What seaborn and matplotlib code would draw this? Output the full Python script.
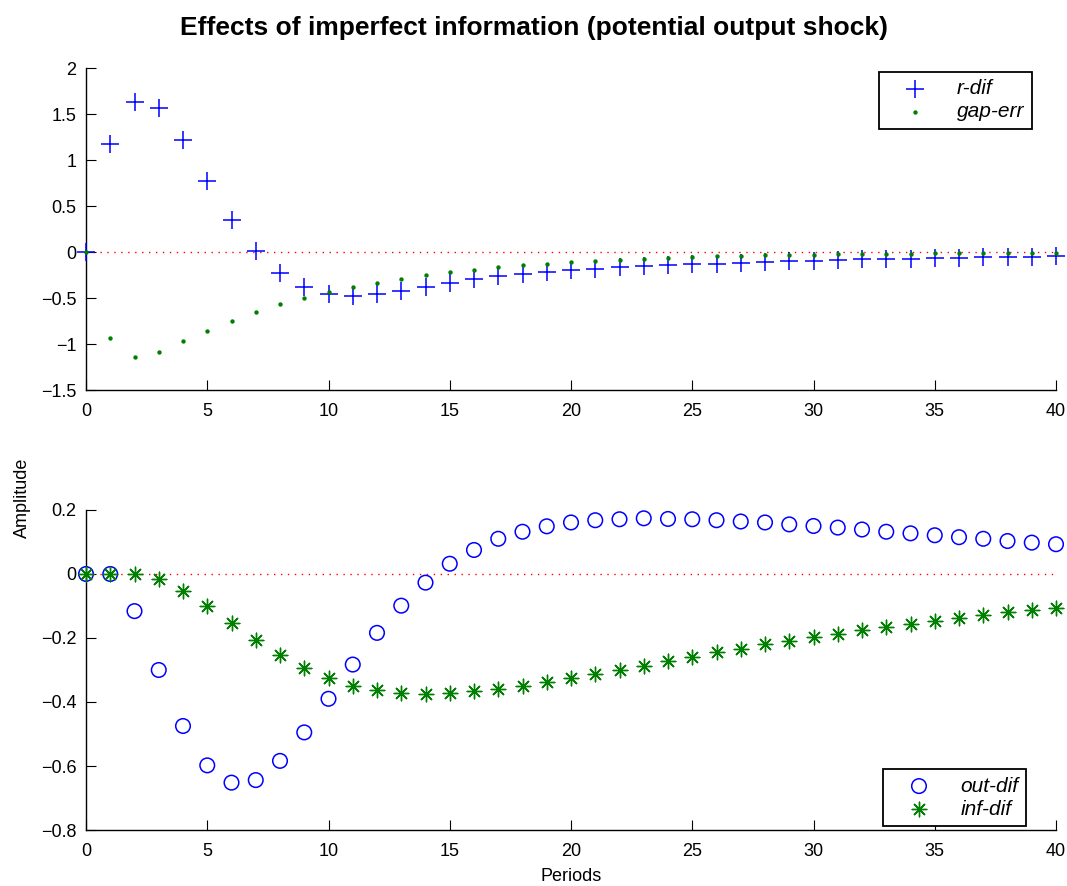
import matplotlib
matplotlib.use("Agg")
import matplotlib.pyplot as plt
import numpy as np
import pandas as pd
import seaborn as sns

periods = list(range(41))

r_dif = [0.0, 1.17, 1.636, 1.563, 1.218, 0.771, 0.353, 0.015, -0.229, -0.378,
         -0.458, -0.483, -0.458, -0.422, -0.382, -0.334, -0.294, -0.262, -0.240, -0.214,
         -0.193, -0.185, -0.164, -0.156, -0.145, -0.134, -0.127, -0.120, -0.109, -0.102,
         -0.098, -0.087, -0.080, -0.076, -0.073, -0.069, -0.065, -0.058, -0.054, -0.051,
         -0.044]
gap_err = [0.0, -0.938, -1.145, -1.083, -0.971, -0.854, -0.749, -0.651, -0.570, -0.502,
           -0.433, -0.382, -0.334, -0.291, -0.251, -0.218, -0.193, -0.167, -0.145, -0.127,
           -0.113, -0.098, -0.084, -0.076, -0.065, -0.058, -0.047, -0.044, -0.036, -0.033,
           -0.029, -0.025, -0.022, -0.018, -0.018, -0.015, -0.015, -0.011, -0.011, -0.011,
           -0.011]
out_dif = [0.0, 0.0, -0.116, -0.300, -0.475, -0.598, -0.652, -0.644, -0.584, -0.495,
           -0.390, -0.283, -0.184, -0.099, -0.027, 0.032, 0.075, 0.110, 0.132, 0.149,
           0.161, 0.168, 0.171, 0.174, 0.172, 0.171, 0.168, 0.164, 0.161, 0.155,
           0.150, 0.145, 0.139, 0.132, 0.127, 0.121, 0.115, 0.110, 0.103, 0.098,
           0.093]
inf_dif = [0.0, 0.0, 0.0, -0.017, -0.053, -0.101, -0.154, -0.206, -0.254, -0.295,
           -0.326, -0.350, -0.364, -0.373, -0.375, -0.373, -0.366, -0.360, -0.349, -0.337,
           -0.325, -0.313, -0.299, -0.286, -0.272, -0.258, -0.245, -0.233, -0.219, -0.208,
           -0.197, -0.186, -0.176, -0.165, -0.155, -0.146, -0.137, -0.128, -0.120, -0.113,
           -0.105]

BLUE = "#0000FF"
GREEN = "#008000"
FONT = ["Liberation Sans", "DejaVu Sans"]

sns.set_style("ticks")
plt.rcParams.update({
    "font.family": FONT,
    "font.size": 13,
    "text.color": "black",
    "xtick.direction": "in",
    "ytick.direction": "in",
    "xtick.major.size": 7,
    "ytick.major.size": 7,
    "axes.linewidth": 1.0,
    "axes.edgecolor": "black",
    "xtick.color": "black",
    "ytick.color": "black",
})


def tick_fmt(v, pos):
    v = round(v, 6)
    if abs(v) < 1e-9:
        return "0"
    return ("\u2212" if v < 0 else "") + f"{abs(v):g}"


fig = plt.figure(figsize=(10.67, 8.86), dpi=100)
ax1 = fig.add_axes([0.0806, 0.5598, 0.9091, 0.3634])
ax2 = fig.add_axes([0.0806, 0.0632, 0.9091, 0.3612])

top = pd.DataFrame({"period": periods, "r-dif": r_dif, "gap-err": gap_err})
bot = pd.DataFrame({"period": periods, "out-dif": out_dif, "inf-dif": inf_dif})

for ax in (ax1, ax2):
    ax.axhline(0, color="red", linestyle=(0, (1, 4)), linewidth=1.0, zorder=1)

sns.scatterplot(data=top, x="period", y="r-dif", marker="+", s=180, color=BLUE,
                linewidth=1.1, ax=ax1, label="r-dif", clip_on=False, zorder=3)
sns.scatterplot(data=top, x="period", y="gap-err", marker="o", s=10, color=GREEN,
                edgecolor=GREEN, linewidth=0, ax=ax1, label="gap-err", clip_on=False, zorder=3)

sns.scatterplot(data=bot, x="period", y="out-dif", marker="o", s=110, facecolors="none",
                edgecolor=BLUE, linewidth=1.1, ax=ax2, label="out-dif", clip_on=False, zorder=3)
sns.scatterplot(data=bot, x="period", y="inf-dif", marker=(8, 2, 0), s=110, color=GREEN,
                linewidth=1.0, ax=ax2, label="inf-dif", clip_on=False, zorder=3)

ax1.set_xlim(0, 40)
ax1.set_ylim(-1.5, 2)
ax1.set_yticks(np.arange(-1.5, 2.01, 0.5))
ax2.set_xlim(0, 40)
ax2.set_ylim(-0.8, 0.2)
ax2.set_yticks(np.arange(-0.8, 0.21, 0.2))

for ax in (ax1, ax2):
    ax.set_xticks(range(0, 41, 5))
    ax.set_xlabel("")
    ax.set_ylabel("")
    ax.tick_params(axis="x", labelsize=13, pad=9)
    ax.tick_params(axis="y", labelsize=13, pad=7)
    ax.yaxis.set_major_formatter(matplotlib.ticker.FuncFormatter(tick_fmt))
    sns.despine(ax=ax)

leg_kw = dict(frameon=True, fancybox=False, edgecolor="black", framealpha=1,
              handletextpad=0.6, borderpad=0.35, labelspacing=0.2, markerscale=1.0,
              borderaxespad=0, handlelength=2.8,
              prop={"family": FONT, "style": "italic", "size": 15})
leg1 = ax1.legend(loc="upper right", bbox_to_anchor=(0.975, 0.988), **leg_kw)
leg2 = ax2.legend(loc="lower right", bbox_to_anchor=(0.969, 0.0125), **leg_kw)
for leg in (leg1, leg2):
    leg.get_frame().set_linewidth(1.3)

fig.text(0.5, 0.968, "Effects of imperfect information (potential output shock)",
         ha="center", va="center", fontsize=19, fontweight="bold")
fig.text(0.021, 0.438, "Amplitude", rotation=90, ha="center", va="center", fontsize=13)
fig.text(0.535, 0.011, "Periods", ha="center", va="center", fontsize=13)

fig.savefig("out.png", dpi=100)
